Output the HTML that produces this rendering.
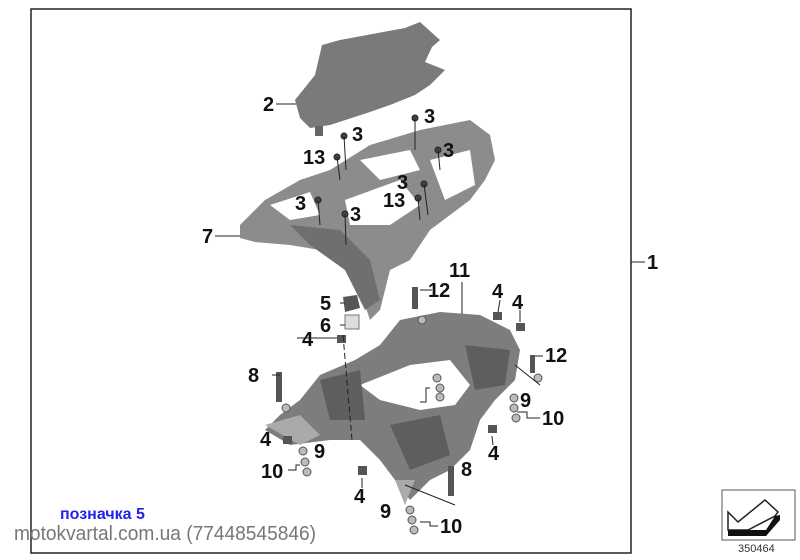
<!DOCTYPE html>
<html><head><meta charset="utf-8"><style>
body{margin:0;background:#fff;width:800px;height:560px;overflow:hidden}
svg{display:block}
.l{font-family:"Liberation Sans",sans-serif;font-weight:bold;font-size:20px;fill:#111}
</style></head><body>
<svg width="800" height="560" viewBox="0 0 800 560">
<rect x="31" y="9" width="600" height="544" fill="none" stroke="#222" stroke-width="1.5"/>
<line x1="631" y1="262" x2="645" y2="262" stroke="#222"/>
<text class="l" x="647" y="269">1</text>
<!-- part 2 -->
<path d="M322,45 L340,40 L405,28 L420,22 L440,40 L432,47 L425,62 L445,70 L430,85 L415,95 L390,105 L370,112 L330,125 L310,128 L300,118 L295,100 L315,75 Z" fill="#7a7a7a"/>
<rect x="315" y="126" width="8" height="10" fill="#666"/>
<line x1="276" y1="104" x2="296" y2="104" stroke="#222"/><text class="l" x="263" y="111">2</text>
<!-- part 7 -->
<path d="M240,225 L265,200 L300,180 L330,170 L370,145 L420,130 L470,120 L490,135 L495,160 L485,180 L470,200 L450,215 L430,230 L410,260 L390,270 L380,310 L370,320 L360,290 L345,270 L320,250 L290,245 L255,242 L240,238 Z" fill="#8c8c8c"/>
<path d="M270,205 L310,192 L320,215 L290,220 Z M345,200 L400,180 L420,205 L390,225 L350,225 Z M430,160 L470,150 L475,185 L445,200 Z M360,160 L410,150 L420,170 L380,180 Z" fill="#fff"/>
<path d="M290,225 L340,230 L370,260 L380,300 L365,310 L345,270 L310,245 Z" fill="#6f6f6f"/>
<line x1="215" y1="236" x2="240" y2="236" stroke="#222"/><text class="l" x="202" y="243">7</text>
<g class="l">
<text x="424" y="123">3</text><text x="352" y="141">3</text><text x="443" y="157">3</text>
<text x="397" y="189">3</text><text x="295" y="210">3</text><text x="350" y="221">3</text>
<text x="303" y="164">13</text><text x="383" y="207">13</text>
<text x="449" y="277">11</text>
<text x="320" y="310">5</text><text x="320" y="332">6</text><text x="302" y="346">4</text>
<text x="428" y="297">12</text><text x="492" y="298">4</text><text x="512" y="309">4</text>
<text x="545" y="362">12</text><text x="248" y="382">8</text>
<text x="402" y="388">9</text><text x="397" y="412">10</text>
<text x="520" y="407">9</text><text x="542" y="425">10</text>
<text x="260" y="446">4</text><text x="314" y="458">9</text><text x="488" y="460">4</text>
<text x="261" y="478">10</text><text x="461" y="476">8</text>
<text x="354" y="503">4</text><text x="380" y="518">9</text><text x="440" y="533">10</text>
</g>
<g fill="#444" stroke="#222">
<circle cx="415" cy="118" r="3"/><line x1="415" y1="118" x2="415" y2="150"/>
<circle cx="344" cy="136" r="3"/><line x1="344" y1="136" x2="346" y2="170"/>
<circle cx="438" cy="150" r="3"/><line x1="438" y1="150" x2="440" y2="170"/>
<circle cx="424" cy="184" r="3"/><line x1="424" y1="184" x2="428" y2="215"/>
<circle cx="318" cy="200" r="3"/><line x1="318" y1="200" x2="320" y2="225"/>
<circle cx="345" cy="214" r="3"/><line x1="345" y1="214" x2="346" y2="245"/>
<circle cx="337" cy="157" r="3"/><line x1="337" y1="157" x2="340" y2="180"/>
<circle cx="418" cy="198" r="3"/><line x1="418" y1="198" x2="420" y2="220"/>
</g>
<line x1="462" y1="282" x2="462" y2="320" stroke="#222"/>
<!-- part 11 -->
<path d="M300,400 L320,375 L355,360 L380,345 L400,320 L440,312 L480,315 L510,330 L520,350 L515,380 L495,400 L480,420 L470,450 L450,470 L430,480 L410,500 L395,480 L380,460 L360,440 L330,440 L290,445 L265,430 L280,415 Z" fill="#7d7d7d"/>
<path d="M360,385 L410,365 L450,360 L470,385 L455,405 L420,410 L380,400 Z" fill="#fff"/>
<path d="M320,380 L360,370 L365,420 L330,420 Z M465,345 L510,350 L505,385 L475,390 Z M390,425 L440,415 L450,455 L410,470 Z" fill="#5e5e5e"/>
<path d="M265,425 L300,415 L320,435 L300,445 Z M395,480 L415,480 L405,505 Z" fill="#aaa"/>
<g fill="#555">
<path d="M343,297 L357,295 L360,308 L345,312 Z"/>
<rect x="345" y="315" width="14" height="14" fill="#ddd" stroke="#777"/>
<rect x="337" y="335" width="9" height="8"/><rect x="493" y="312" width="9" height="8"/><rect x="516" y="323" width="9" height="8"/>
<rect x="283" y="436" width="9" height="8"/><rect x="488" y="425" width="9" height="8"/><rect x="358" y="466" width="9" height="9"/>
<rect x="412" y="287" width="6" height="22"/><rect x="276" y="372" width="6" height="30"/><rect x="448" y="466" width="6" height="30"/><rect x="530" y="355" width="5" height="18"/>
</g>
<g fill="#bbb" stroke="#555">
<circle cx="437" cy="378" r="4"/><circle cx="440" cy="388" r="4"/><circle cx="440" cy="397" r="4"/>
<circle cx="514" cy="398" r="4"/><circle cx="514" cy="408" r="4"/><circle cx="516" cy="418" r="4"/>
<circle cx="303" cy="451" r="4"/><circle cx="305" cy="462" r="4"/><circle cx="307" cy="472" r="4"/>
<circle cx="410" cy="510" r="4"/><circle cx="412" cy="520" r="4"/><circle cx="414" cy="530" r="4"/>
<circle cx="286" cy="408" r="4"/><circle cx="538" cy="378" r="4"/><circle cx="422" cy="320" r="4"/>
</g>
<g stroke="#222" fill="none">
<line x1="280" y1="375" x2="272" y2="375"/><line x1="297" y1="338" x2="337" y2="338"/>
<line x1="343" y1="335" x2="352" y2="440" stroke-dasharray="6,3"/>
<line x1="340" y1="303" x2="345" y2="303"/><line x1="340" y1="325" x2="345" y2="325"/>
<polyline points="430,388 426,388 426,402 420,402"/><polyline points="517,412 527,412 527,418 540,418"/>
<polyline points="300,465 296,465 296,470 288,470"/><polyline points="420,522 430,522 430,526 438,526"/>
<line x1="500" y1="300" x2="498" y2="312"/><line x1="520" y1="310" x2="520" y2="322"/>
<line x1="492" y1="436" x2="493" y2="445"/><line x1="362" y1="478" x2="362" y2="488"/>
<line x1="432" y1="290" x2="420" y2="290"/><line x1="543" y1="356" x2="535" y2="356"/>
<line x1="405" y1="485" x2="455" y2="505"/><line x1="515" y1="365" x2="540" y2="385"/>
</g>
<text x="60" y="519" font-family="'Liberation Sans',sans-serif" font-weight="bold" font-size="16" fill="#2222ee">позначка 5</text>
<text x="14" y="540" font-family="'Liberation Sans',sans-serif" font-size="20" fill="#777" textLength="302" lengthAdjust="spacingAndGlyphs">motokvartal.com.ua (77448545846)</text>
<rect x="722" y="490" width="73" height="50" fill="#fff" stroke="#555"/>
<polygon points="728,512 738,522 765,500 778,512 775,516 748,530 728,530" fill="#fff" stroke="#222" stroke-width="1.5"/>
<polygon points="728,530 766,530 766,536 728,536" fill="#111"/>
<polygon points="775,516 780,515 780,520 766,536 766,530" fill="#111"/>
<text x="738" y="552" font-family="'Liberation Sans',sans-serif" font-size="11" fill="#333">350464</text>
</svg>
</body></html>
